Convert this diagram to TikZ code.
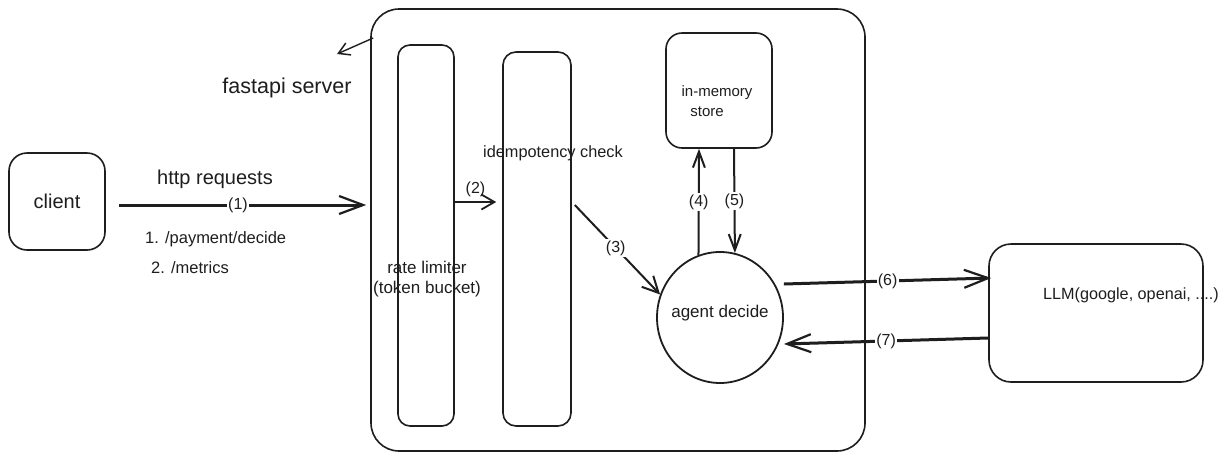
\documentclass[tikz,border=0pt]{standalone}
\usepackage{fontspec}
\setmainfont{Liberation Sans}
\usetikzlibrary{arrows.meta,shapes.geometric,calc}
\definecolor{ink}{HTML}{1E1E1E}
\begin{document}
\begin{tikzpicture}[x=1pt,y=-1pt,
  box/.style={draw=ink, line width=1.6pt, rounded corners=#1, inner sep=0pt},
  box/.default=16pt,
  txt/.style={text=ink, inner sep=0pt, font=\fontsize{#1}{#1}\selectfont},
  txt/.default=16,
  lab/.style={fill=white, text=ink, inner sep=1.2pt, font=\fontsize{16}{16}\selectfont},
  arr/.style={draw=ink, line width=1.6pt, -{Straight Barb[length=13pt,width=15pt,line width=1.8pt]}},
  bigarr/.style={draw=ink, line width=3pt, -{Straight Barb[length=24pt,width=18pt,line width=2.2pt]}}
]
\useasboundingbox (0,0) rectangle (1230,461);
\fill[white] (0,0) rectangle (1230,461);

% nodes
\node[box=18pt, minimum width=96pt, minimum height=97pt, txt=20] (client) at (57,201.5) {client};
\node[box=28pt, minimum width=494pt, minimum height=442pt] (server) at (618,230) {};
\node[box=12pt, minimum width=56pt, minimum height=381pt] (rl) at (426,235.5) {};
\node[box=13pt, minimum width=68pt, minimum height=374pt] (idem) at (537,239) {};
\node[box=16pt, minimum width=106pt, minimum height=115pt] (store) at (719,90.5) {};
\node[ellipse, draw=ink, line width=1.8pt, minimum width=126pt, minimum height=131pt, inner sep=0pt] (agent) at (720,317.5) {};
\node[box=22pt, minimum width=214pt, minimum height=138pt] (llm) at (1096,313) {};

% texts
\node[txt=20] (http) at (215,179) {http requests};
\node[txt=16.5, anchor=west] (ep1) at (145,239) {1. /payment/decide};
\node[txt=16.5, anchor=west] (ep2) at (151,268) {2. /metrics};
\node[txt=21.5] (fastapi) at (287,88) {fastapi server};
\node[txt=17, align=center, font=\fontsize{17}{20}\selectfont] (rltext) at (427,279) {rate limiter\\(token bucket)};
\node[txt=16.3] (idemtext) at (553,153) {idempotency check};
\node[txt=15] (mem1) at (717,93) {in-memory};
\node[txt=15] (mem2) at (707,112) {store};
\node[txt=17] (agenttext) at (720,313) {agent decide};
\node[txt=16.2] (llmtext) at (1131,295) {LLM(google, openai, ....)};

% pointer to the server label
\coordinate (fptr) at (337,54);
\draw[arr, line width=1.4pt, -{Straight Barb[length=11pt,width=13pt,line width=1.5pt]}] ([xshift=3pt,yshift=192pt]server.west) -- (fptr);

% connectors
\draw[bigarr, shorten <=13pt, shorten >=4pt] ([yshift=-3.5pt]client.east) -- node[lab, pos=0.5] {(1)} ([yshift=25pt]server.west);
\draw[arr] ([yshift=33.5pt]rl.east) -- node[lab, above=3pt, fill=none] {(2)} ([xshift=-6pt,yshift=37pt]idem.west);
\draw[arr, line width=2pt, -{Straight Barb[length=16pt,width=16pt,line width=2pt]}] ([xshift=3pt,yshift=34pt]idem.east) -- node[lab, pos=0.48] {(3)} (agent.159);
\draw[arr, line width=2pt, -{Straight Barb[length=16pt,width=12pt,line width=2pt]}] (agent.109.5) -- node[lab] {(4)} ([xshift=-20pt]store.south);
\draw[arr, line width=2pt, -{Straight Barb[length=16pt,width=12pt,line width=2pt]}] ([xshift=15pt]store.south) -- node[lab] {(5)} (agent.77);
\draw[bigarr] ([yshift=33.5pt]agent.east) -- node[lab] {(6)} ([xshift=3pt,yshift=35pt]llm.west);
\draw[bigarr] ([yshift=-25pt]llm.west) -- node[lab] {(7)} ([yshift=-26.5pt]agent.east);
\end{tikzpicture}
\end{document}
